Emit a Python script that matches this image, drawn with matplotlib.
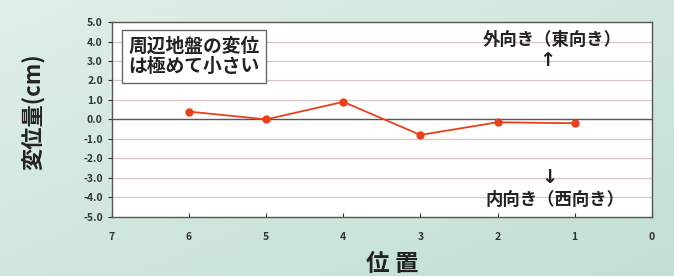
import numpy as np
import matplotlib
matplotlib.use('Agg')
import matplotlib.pyplot as plt
from matplotlib.colors import LinearSegmentedColormap

plt.rcParams['font.family'] = ['Noto Sans CJK JP', 'DejaVu Sans']

# データ
positions = [6, 5, 4, 3, 2, 1]
displacement = [0.4, 0.0, 0.9, -0.8, -0.15, -0.2]
y_ticks = np.arange(-5, 6, 1)
x_ticks = [7, 6, 5, 4, 3, 2, 1, 0]

fig = plt.figure(figsize=(6.74, 2.76), dpi=100)

# 背景のグラデーション
bg = fig.add_axes([0, 0, 1, 1], zorder=0)
g = np.linspace(0, 1, 256)
xx, yy = np.meshgrid(g, g)
grad = 0.5 * xx + 0.5 * yy
cmap = LinearSegmentedColormap.from_list('bg', ['#e0efe6', '#c2e0d2'])
bg.imshow(grad, cmap=cmap, aspect='auto', extent=[0, 1, 0, 1], origin='upper')
bg.axis('off')

ax = fig.add_axes([0.166, 0.215, 0.801, 0.705], zorder=1)
ax.set_facecolor('white')
ax.set_xlim(7, 0)
ax.set_ylim(-5, 5)

for v in y_ticks:
    if v == 0:
        ax.axhline(v, color='#555555', lw=1.0, zorder=1)
    elif abs(v) != 5:
        ax.axhline(v, color='#d8c4c8', lw=0.9, zorder=1)

ax.plot(positions, displacement, color='#e8401c', lw=1.3, marker='o',
        markersize=5, zorder=3)

ax.set_yticks(y_ticks)
ax.set_yticklabels(['%.1f' % v for v in y_ticks])
ax.set_xticks(x_ticks)
ax.tick_params(axis='y', direction='out', length=3, labelsize=7.5, colors='#333333')
ax.tick_params(axis='x', direction='in', length=3, labelsize=7.5, colors='#333333', pad=11)
for lab in ax.get_xticklabels() + ax.get_yticklabels():
    lab.set_fontweight('bold')
for s in ax.spines.values():
    s.set_color('#555555')
    s.set_linewidth(1.0)

ax.set_ylabel('変位量(cm)', fontsize=16, fontweight='bold', color='#222222', va='center')
ax.yaxis.set_label_coords(-0.145, 0.54)
ax.set_xlabel('位 置', fontsize=17, fontweight='bold', color='#222222', va='center')
ax.xaxis.set_label_coords(0.52, -0.245)

ax.text(0.03, 0.925, '周辺地盤の変位\nは極めて小さい', transform=ax.transAxes,
        fontsize=13.5, fontweight='bold', color='#222222', va='top', ha='left',
        linespacing=1.1,
        bbox=dict(boxstyle='square,pad=0.35', fc='white', ec='#666666', lw=1))

ax.text(1.29, 4.07, '外向き（東向き）', fontsize=12.5, fontweight='bold',
        ha='center', va='center', color='#222222')
ax.text(1.35, 3.05, '↑', fontsize=14, fontweight='bold', ha='center', va='center',
        color='#222222', family='DejaVu Sans')
ax.text(1.33, -3.0, '↓', fontsize=14, fontweight='bold', ha='center', va='center',
        color='#222222', family='DejaVu Sans')
ax.text(1.25, -4.15, '内向き（西向き）', fontsize=12.5, fontweight='bold',
        ha='center', va='center', color='#222222')

fig.savefig('out.png', dpi=100)
